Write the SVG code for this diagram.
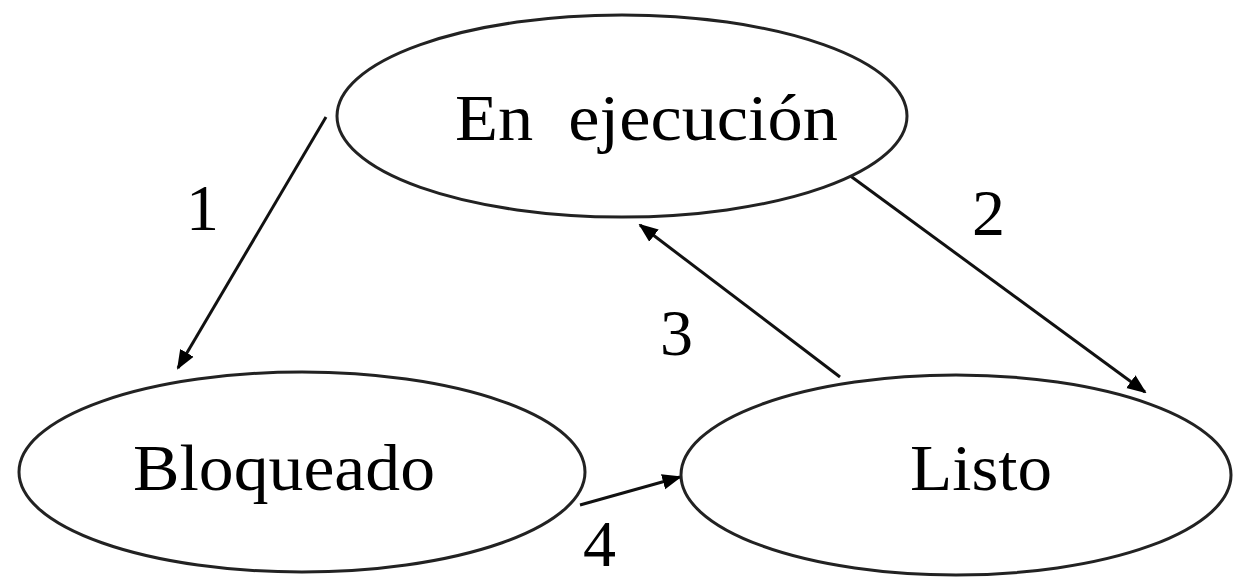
<svg xmlns="http://www.w3.org/2000/svg" width="1233" height="581" viewBox="0 0 1233 581">
<style>
.n{fill:#fff;stroke:#222;stroke-width:3}
.t{font-family:"Liberation Serif","DejaVu Serif",serif;font-size:66px;fill:#000}
.c{stroke:#111;stroke-width:3;fill:none;marker-end:url(#ah)}
</style>
<defs>
<marker id="ah" viewBox="0 0 10 10" refX="9" refY="5" markerWidth="6.5" markerHeight="6.5" orient="auto" markerUnits="strokeWidth">
<path d="M0,1 L10,5 L0,9 Z" fill="#000"/>
</marker>
</defs>
<rect width="1233" height="581" fill="#fff"/>
<g id="connectors">
<line class="c" x1="326" y1="117" x2="178" y2="368"/>
<line class="c" x1="845" y1="172" x2="1145" y2="392"/>
<line class="c" x1="840" y1="377" x2="640" y2="225"/>
<line class="c" x1="580" y1="505" x2="680" y2="477"/>
</g>
<g id="en-ejecucion">
<ellipse class="n" cx="622" cy="116" rx="285" ry="101"/>
<text class="t" x="455" y="140" textLength="383" lengthAdjust="spacingAndGlyphs" xml:space="preserve">En  ejecución</text>
</g>
<g id="bloqueado">
<ellipse class="n" cx="302" cy="472" rx="283" ry="100"/>
<text class="t" x="133" y="490" textLength="302" lengthAdjust="spacingAndGlyphs">Bloqueado</text>
</g>
<g id="listo">
<ellipse class="n" cx="956" cy="475" rx="275" ry="100"/>
<text class="t" x="910" y="490" textLength="142" lengthAdjust="spacingAndGlyphs">Listo</text>
</g>
<g id="labels">
<text class="t" x="186" y="230">1</text>
<text class="t" x="972" y="235">2</text>
<text class="t" x="660" y="355">3</text>
<text class="t" x="583" y="566">4</text>
</g>
</svg>
